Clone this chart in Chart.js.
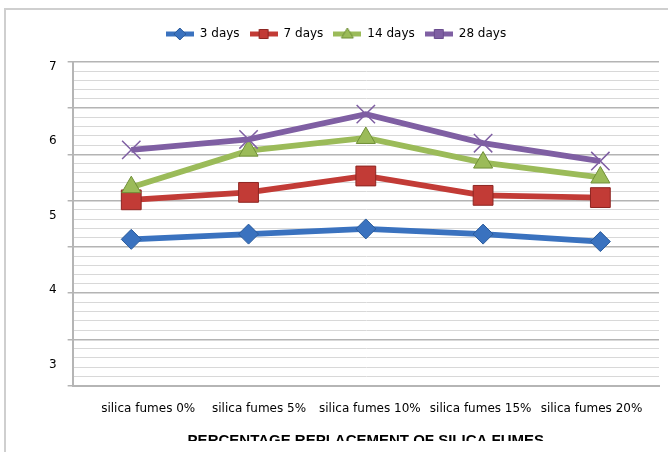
<!DOCTYPE html>
<html>
<head>
<meta charset="utf-8">
<script src="https://cdn.jsdelivr.net/npm/chart.js@4"></script>
<style>
  html, body { margin: 0; padding: 0; background: #fff; overflow: hidden; }
  #frame { position: absolute; left: 4px; top: 8px; width: 700px; height: 500px; border: 2px solid #cfcfcf; box-sizing: border-box; }
  #wrap { position: absolute; left: 0; top: 0; width: 668px; height: 441px; overflow: hidden; }
</style>
</head>
<body>
<div id="frame"></div>
<div id="wrap"><canvas id="strengthChart" width="668" height="470"></canvas></div>
<script>
// Categories and series
const categories = ["silica fumes 0%", "silica fumes 5%", "silica fumes 10%", "silica fumes 15%", "silica fumes 20%"];
const days3 = [4.68, 4.75, 4.82, 4.75, 4.65];
const days7 = [5.21, 5.31, 5.53, 5.27, 5.24];
const days14 = [5.38, 5.87, 6.04, 5.71, 5.51];
const days28 = [5.88, 6.02, 6.36, 5.97, 5.73];
const seriesNames = ["3 days", "7 days", "14 days", "28 days"];

// Axis labels
const yTickLabels = [3, 4, 5, 6, 7];
const xTitle = "PERCENTAGE REPLACEMENT OF SILICA FUMES";

const colors = ["#3a72bf", "#c23b36", "#9bbb59", "#7f5fa3"];
const markerEdge = ["#2a5a9a", "#8e2622", "#6f8f37", "#6a4d8f"];
const shapes = ["rectRot", "rect", "triangle", "crossRot"];
const radii = [10, 14, 11, 13];

// small line + marker picture for each legend entry
function legendIcon(i) {
    var c = document.createElement("canvas");
    c.width = 28;
    c.height = 14;
    var g = c.getContext("2d");
    g.strokeStyle = colors[i];
    g.lineWidth = 5;
    g.beginPath();
    g.moveTo(0, 7);
    g.lineTo(28, 7);
    g.stroke();
    g.fillStyle = colors[i];
    g.strokeStyle = markerEdge[i];
    g.lineWidth = 1;
    g.beginPath();
    if (i == 0) {
        g.moveTo(14, 1); g.lineTo(20, 7); g.lineTo(14, 13); g.lineTo(8, 7); g.closePath();
    } else if (i == 2) {
        g.moveTo(14, 1); g.lineTo(20, 11); g.lineTo(8, 11); g.closePath();
    } else {
        g.rect(9.5, 2.5, 9, 9);
    }
    g.fill();
    g.stroke();
    return c;
}

// extra room under the legend, and legend nudged a bit to the left
const legendGap = {
    id: "legendGap",
    beforeInit: function (chart) {
        var fit = chart.legend.fit;
        chart.legend.fit = function () {
            fit.bind(chart.legend)();
            this.height += 12;
        };
    },
    afterLayout: function (chart) {
        chart.legend.left -= 12.5;
        chart.legend.right -= 12.5;
    }
};

const allSeries = [days3, days7, days14, days28];
const datasets = [];
for (var i = 0; i < allSeries.length; i++) {
    datasets.push({
        label: seriesNames[i],
        data: allSeries[i],
        yAxisID: "y",
        xAxisID: "x",
        borderColor: colors[i],
        borderWidth: 5.8,
        backgroundColor: colors[i],
        pointStyle: shapes[i],
        pointRadius: radii[i],
        pointHoverRadius: radii[i],
        pointBackgroundColor: colors[i],
        pointBorderColor: i == 3 ? colors[i] : markerEdge[i],
        pointBorderWidth: i == 3 ? 1.5 : 1,
        tension: 0,
        order: 4 - i
    });
}

new Chart("strengthChart", {
    type: "line",
    data: {
        labels: categories,
        datasets: datasets
    },
    plugins: [legendGap],
    options: {
        responsive: false,
        animation: false,
        layout: {
            autoPadding: false,
            padding: { top: 18, left: 38, right: 9, bottom: 20 }
        },
        plugins: {
            tooltip: { enabled: false },
            legend: {
                display: true,
                position: "top",
                labels: {
                    usePointStyle: true,
                    pointStyleWidth: 28,
                    padding: 10,
                    color: "#000",
                    font: { family: "DejaVu Sans", size: 12 },
                    generateLabels: function () {
                        return seriesNames.map(function (name, i) {
                            return {
                                text: name,
                                pointStyle: legendIcon(i),
                                fillStyle: colors[i],
                                strokeStyle: colors[i],
                                lineWidth: 0,
                                hidden: false,
                                datasetIndex: i
                            };
                        });
                    }
                }
            }
        },
        scales: {
            x: {
                type: "category",
                position: "bottom",
                offset: true,
                weight: 0,
                grid: { display: false, drawTicks: false },
                ticks: { display: false },
                border: { display: true, color: "#b5b5b5", width: 2 }
            },
            xLabels: {
                type: "linear",
                position: "bottom",
                min: -0.682,
                max: 4.609,
                weight: 1,
                afterBuildTicks: function (axis) {
                    axis.ticks = categories.map(function (c, i) { return { value: i }; });
                },
                afterFit: function (axis) {
                    axis.paddingLeft = 0;
                    axis.paddingRight = 0;
                },
                grid: { display: false, drawTicks: false },
                border: { display: false },
                ticks: {
                    autoSkip: false,
                    maxRotation: 0,
                    padding: 16,
                    color: "#000",
                    font: { family: "DejaVu Sans", size: 12 },
                    callback: function (value) { return categories[value]; }
                },
                title: {
                    display: true,
                    text: xTitle,
                    color: "#000",
                    font: { family: "Liberation Sans", size: 15, weight: "bold" },
                    padding: { top: 0, bottom: 0 }
                }
            },
            yGrid: {
                type: "linear",
                position: "left",
                min: 0,
                max: 35,
                weight: 0,
                ticks: { display: false, stepSize: 1, maxTicksLimit: 100 },
                grid: {
                    drawTicks: true,
                    tickLength: 5,
                    color: function (ctx) { return ctx.tick.value % 5 == 0 ? "#b4b4b4" : "#d8d8d8"; },
                    lineWidth: function (ctx) { return ctx.tick.value % 5 == 0 ? 1.5 : 1; },
                    tickColor: function (ctx) { return ctx.tick.value % 5 == 0 ? "#b4b4b4" : "rgba(0,0,0,0)"; }
                },
                border: { display: true, color: "#b5b5b5", width: 2 }
            },
            y: {
                type: "linear",
                position: "left",
                min: 2.718,
                max: 7.059,
                weight: 1,
                afterBuildTicks: function (axis) {
                    axis.ticks = yTickLabels.map(function (v) { return { value: v }; });
                },
                grid: { display: false, drawTicks: false },
                border: { display: false },
                ticks: {
                    padding: 11,
                    color: "#000",
                    font: { family: "DejaVu Sans", size: 12 }
                }
            }
        }
    }
});
</script>
</body>
</html>
